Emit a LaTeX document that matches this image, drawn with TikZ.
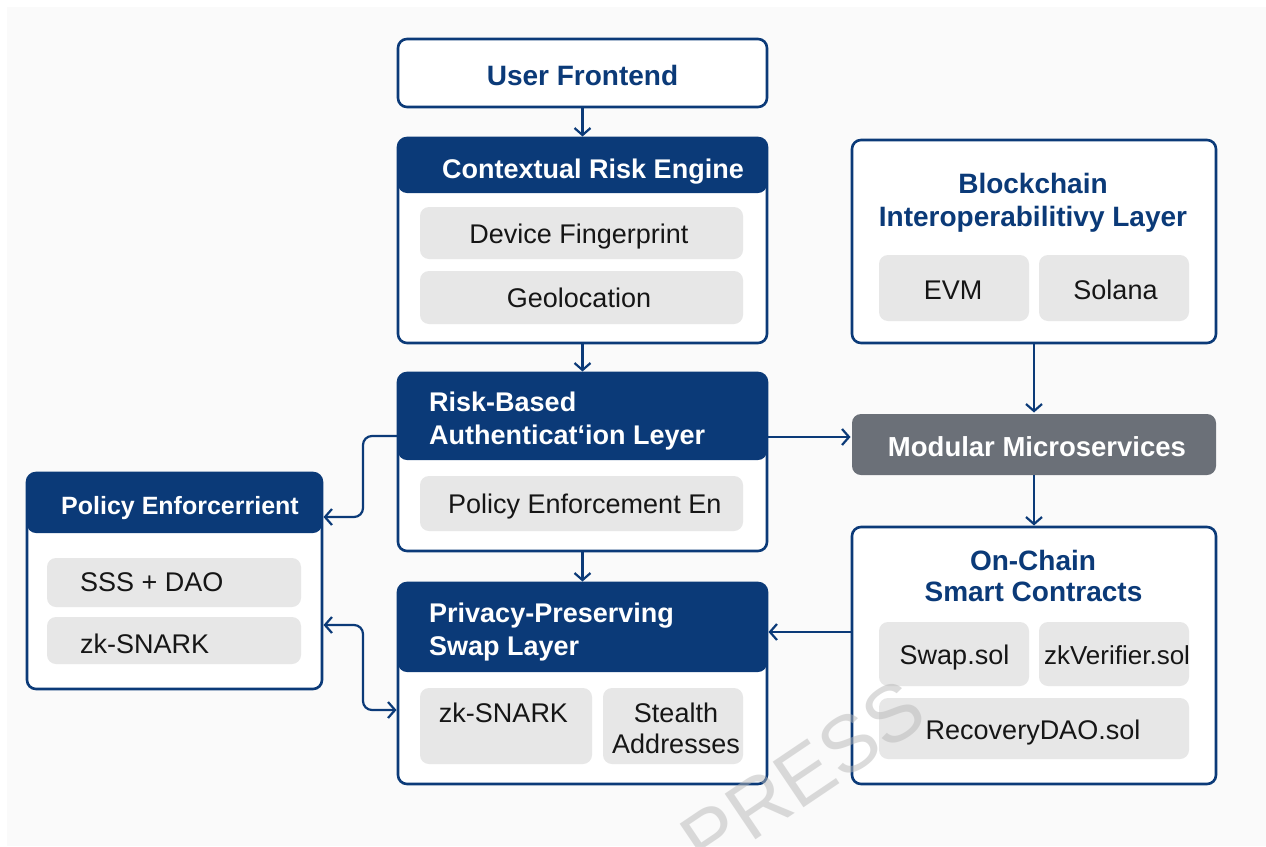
\documentclass[tikz,border=0pt]{standalone}
\usepackage{fontspec}
\setmainfont{Liberation Sans}
\usetikzlibrary{arrows.meta,calc}

\definecolor{navy}{HTML}{0B3A78}
\definecolor{chipgray}{HTML}{E7E7E7}
\definecolor{slate}{HTML}{6B7078}
\definecolor{panel}{HTML}{FAFAFA}
\definecolor{ink}{HTML}{161616}

\begin{document}
\begin{tikzpicture}[x=1pt,y=-1pt,
  frame/.style={draw=navy, line width=2.6pt, rounded corners=9pt, fill=white,
    inner sep=0pt, outer sep=0pt, anchor=north west},
  hdr/.style={path picture={\fill[navy] (path picture bounding box.north west)
    rectangle ([yshift=-#1]path picture bounding box.north east);}},
  chip/.style={fill=chipgray, rounded corners=9pt, inner sep=0pt, outer sep=0pt,
    anchor=north west},
  hdtext/.style={text=white, inner sep=0pt, anchor=base,
    font=\fontsize{27pt}{32pt}\selectfont\bfseries},
  ttl/.style={text=navy, inner sep=0pt, anchor=base,
    font=\fontsize{28pt}{33pt}\selectfont\bfseries},
  lbl/.style={text=ink, inner sep=0pt, anchor=base,
    font=\fontsize{27pt}{32pt}\selectfont},
  link/.style={navy, line width=2.2pt, shorten >=1.5pt,
    -{Straight Barb[length=7pt,width=16pt,line width=2.2pt]}},
  linkboth/.style={navy, line width=2.2pt, shorten >=1.5pt, shorten <=1.5pt,
    {Straight Barb[length=7pt,width=16pt,line width=2.2pt]}-{Straight Barb[length=7pt,width=16pt,line width=2.2pt]}}
]
\useasboundingbox (0,0) rectangle (1266,846);
\fill[white] (0,0) rectangle (1266,846);
\fill[panel] (7,7) rectangle (1266,846);

% ---------- centre column ----------
\node[frame, minimum width=369pt, minimum height=68pt] (uf) at (398,39) {};
\node[ttl] (ufT) at (582.5,85) {User Frontend};

\node[frame, hdr=55pt, minimum width=369pt, minimum height=205pt] (cre) at (398,138) {};
\node[hdtext] (creT) at (593,178) {Contextual Risk Engine};
\node[chip, minimum width=323pt, minimum height=52pt] (df) at (420,207) {};
\node[lbl] (dfT) at (579,243) {Device Fingerprint};
\node[chip, minimum width=323pt, minimum height=53pt] (geo) at (420,271) {};
\node[lbl] (geoT) at (579,307) {Geolocation};

\node[frame, hdr=87pt, minimum width=369pt, minimum height=178pt] (rba) at (398,373) {};
\node[hdtext, anchor=base west] (rbaT1) at (429,411) {Risk-Based};
\node[hdtext, anchor=base west] (rbaT2) at (429,444) {Authenticat‘ion Leyer};
\node[chip, minimum width=323pt, minimum height=55pt] (pee) at (420,476) {};
\node[lbl, anchor=base west] (peeT) at (448,513) {Policy Enforcement En};

\node[frame, hdr=89pt, minimum width=369pt, minimum height=201pt] (ppsl) at (398,583) {};
\node[hdtext, anchor=base west] (ppT1) at (429,622) {Privacy-Preserving};
\node[hdtext, anchor=base west] (ppT2) at (429,655) {Swap Layer};
\node[chip, minimum width=172pt, minimum height=76pt] (zk1) at (420,688) {};
\node[lbl] (zk1T) at (503.5,722) {zk-SNARK};
\node[chip, minimum width=140pt, minimum height=76pt] (sa) at (603,688) {};
\node[lbl] (saT1) at (676,722) {Stealth};
\node[lbl] (saT2) at (676,753) {Addresses};

% ---------- left column ----------
\node[frame, hdr=60pt, minimum width=295pt, minimum height=216pt] (pe) at (27,473) {};
\node[hdtext, font=\fontsize{25pt}{30pt}\selectfont\bfseries] (peT) at (180,514) {Policy Enforcerrient};
\node[chip, minimum width=254pt, minimum height=49pt] (sss) at (47,558) {};
\node[lbl, anchor=base west] (sssT) at (80,591) {SSS + DAO};
\node[chip, minimum width=254pt, minimum height=47pt] (zk2) at (47,617) {};
\node[lbl, anchor=base west] (zk2T) at (80,653) {zk-SNARK};

% ---------- right column ----------
\node[frame, minimum width=364pt, minimum height=203pt] (bil) at (852,140) {};
\node[ttl] (bilT1) at (1033,193.5) {Blockchain};
\node[ttl] (bilT2) at (1033,226.5) {Interoperabilitivy Layer};
\node[chip, minimum width=150pt, minimum height=66pt] (evm) at (879,255) {};
\node[lbl] (evmT) at (953,299) {EVM};
\node[chip, minimum width=150pt, minimum height=66pt] (sol) at (1039,255) {};
\node[lbl] (solT) at (1115.5,299) {Solana};

\node[fill=slate, rounded corners=9pt, inner sep=0pt, outer sep=0pt, anchor=north west,
  minimum width=364pt, minimum height=61pt] (mm) at (852,414) {};
\node[hdtext, font=\fontsize{27.5pt}{32pt}\selectfont\bfseries] (mmT) at (1037,456.5) {Modular Microservices};

\node[frame, minimum width=364pt, minimum height=257pt] (occ) at (852,527) {};
\node[ttl] (occT1) at (1033,570) {On-Chain};
\node[ttl] (occT2) at (1033.5,601) {Smart Contracts};
\node[chip, minimum width=150pt, minimum height=64pt] (swp) at (879,622) {};
\node[lbl] (swpT) at (954.5,664) {Swap.sol};
\node[chip, minimum width=150pt, minimum height=64pt] (zkv) at (1039,622) {};
\node[lbl, font=\fontsize{26pt}{31pt}\selectfont] (zkvT) at (1117,664) {zkVerifier.sol};
\node[chip, minimum width=310pt, minimum height=61pt] (rdao) at (879,698) {};
\node[lbl] (rdT) at (1033,739.5) {RecoveryDAO.sol};

% ---------- connectors ----------
\draw[link] (uf) -- (cre);
\draw[link] (cre) -- (rba);
\draw[link] (rba) -- (ppsl);
\draw[link] (bil) -- (mm);
\draw[link] (mm) -- (occ);

\coordinate (rbaR) at ($(rba.north east)+(0,64)$);
\draw[link] (rbaR) -- (rbaR -| mm.west);

\coordinate (occL) at ($(occ.north west)+(0,105)$);
\draw[link] (occL) -- (occL -| ppsl.east);

\coordinate (rbaL) at ($(rba.north west)+(0,63)$);
\coordinate (peR1) at ($(pe.north east)+(0,44)$);
\draw[link, rounded corners=9pt] (rbaL) -- ($(rbaL)+(-35,0)$) |- (peR1);

\coordinate (peR2) at ($(pe.north east)+(0,152)$);
\coordinate (ppL) at ($(ppsl.north west)+(0,127)$);
\draw[linkboth, rounded corners=9pt] (peR2) -- ($(peR2)+(41,0)$) |- (ppL);

% ---------- watermark ----------
\node[rotate=34, text=black!28, opacity=0.5, inner sep=0pt,
  font=\fontsize{80pt}{80pt}\selectfont] (wm) at (803,775) {PRESS};
\end{tikzpicture}
\end{document}
